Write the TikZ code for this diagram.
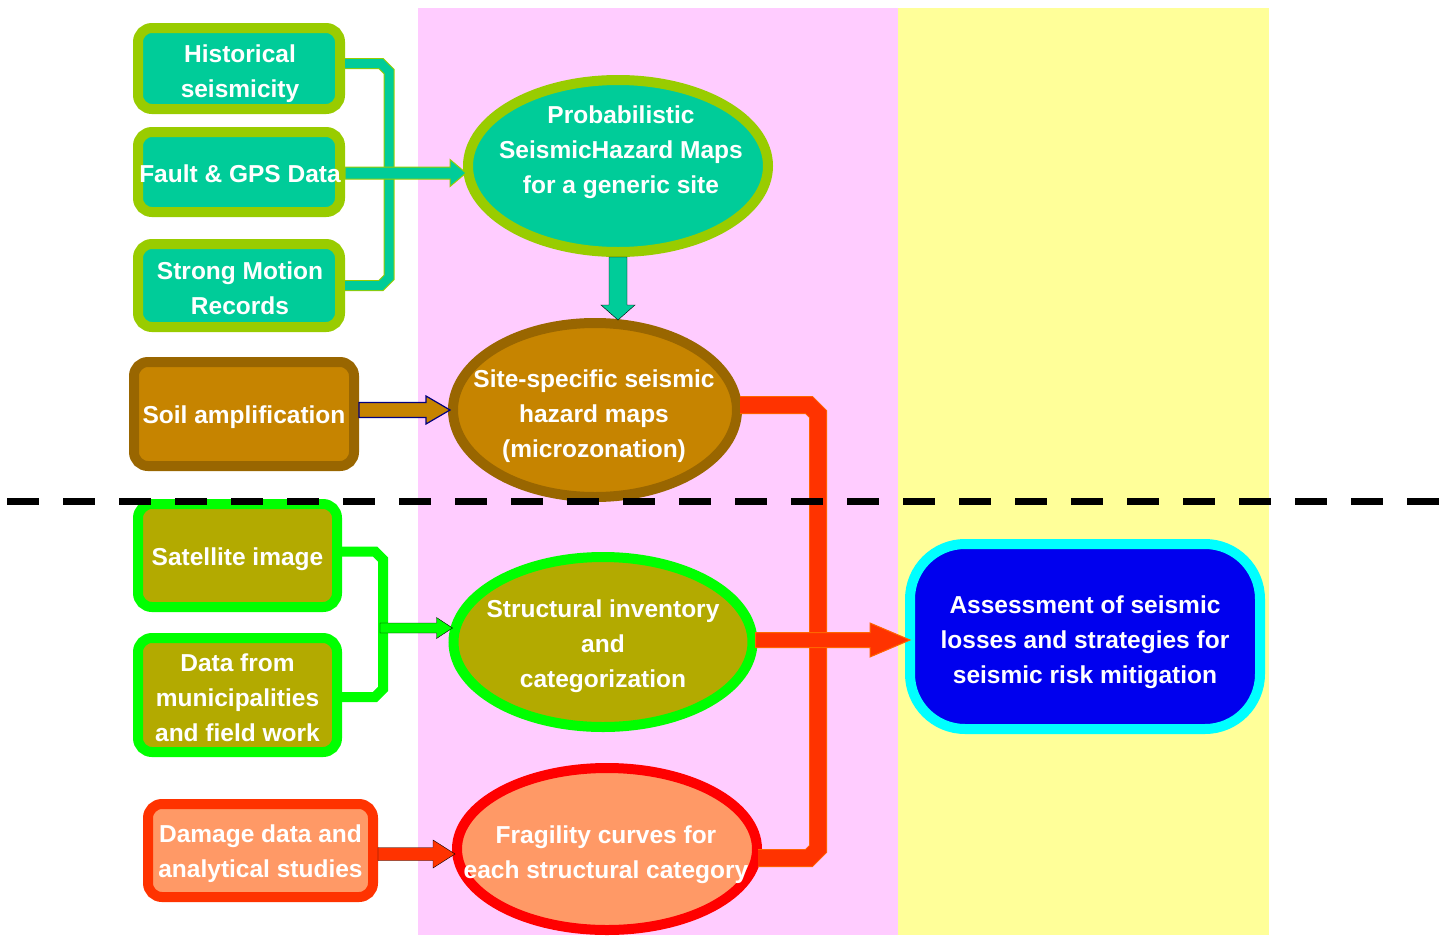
\documentclass[tikz,border=0pt]{standalone}
\usepackage{fontspec}
\setmainfont{Liberation Sans}
\usetikzlibrary{shapes.geometric,calc}
\definecolor{tealc}{HTML}{00CC99}
\definecolor{oliveg}{HTML}{99CC00}
\definecolor{brownb}{HTML}{996600}
\definecolor{brownf}{HTML}{C68400}
\definecolor{limeg}{HTML}{00FF00}
\definecolor{olivef}{HTML}{B3AA00}
\definecolor{salmonf}{HTML}{FF9966}
\definecolor{redor}{HTML}{FF3300}
\definecolor{redb}{HTML}{FF0000}
\definecolor{orout}{HTML}{FF6600}
\definecolor{blueb}{HTML}{0000EE}
\definecolor{cyanb}{HTML}{00FFFF}
\definecolor{pinkbg}{HTML}{FFCCFF}
\definecolor{yellowbg}{HTML}{FFFF99}
\definecolor{navyc}{HTML}{000080}
% horizontal block arrow: style, start, tip, shaft half, head half, head length
\newcommand\rarrow[6]{%
  \draw[#1] let \p1=(#2), \p2=(#3) in
    (\x1,\y1+#4pt) -- (\x2-#6pt,\y1+#4pt) -- (\x2-#6pt,\y1+#5pt) -- (\x2,\y1)
    -- (\x2-#6pt,\y1-#5pt) -- (\x2-#6pt,\y1-#4pt) -- (\x1,\y1-#4pt) -- cycle;}
% vertical (downward) block arrow
\newcommand\darrow[6]{%
  \draw[#1] let \p1=(#2), \p2=(#3) in
    (\x1-#4pt,\y1) -- (\x1-#4pt,\y2+#6pt) -- (\x1-#5pt,\y2+#6pt) -- (\x1,\y2)
    -- (\x1+#5pt,\y2+#6pt) -- (\x1+#4pt,\y2+#6pt) -- (\x1+#4pt,\y1) -- cycle;}
\tikzset{
  txt/.style={font=\bfseries\fontsize{24.5}{35}\selectfont, text=white, align=center, inner sep=0pt, yshift=-3pt},
  box/.style={draw, rectangle, rounded corners=14pt, line width=10pt, inner sep=0pt},
  ell/.style={draw, ellipse, line width=10pt, inner sep=0pt},
  tealline/.style={draw=oliveg, line width=1pt, double=tealc, double distance=9pt, line join=miter},
  greenline/.style={draw=limeg, line width=10pt, line join=miter},
  orline/.style={draw=orout, line width=1pt, double=redor, double distance=16pt, line join=miter},
}
\begin{document}
\begin{tikzpicture}[x=1pt,y=-1pt]
\useasboundingbox (0,0) rectangle (1449,935);
% background bands
\fill[pinkbg] (418,8) rectangle (898,935);
\fill[yellowbg] (898,8) rectangle (1269,935);

% input boxes
\node[box, draw=oliveg, fill=tealc, minimum width=202pt, minimum height=81pt] (hist) at (239,68.5) {};
\node[txt, yshift=-2pt] (histt) at ($(hist)+(1,0)$) {Historical\\seismicity};
\node[box, draw=oliveg, fill=tealc, minimum width=202pt, minimum height=80pt] (fault) at (239,172) {};
\node[txt, yshift=1pt] (faultt) at ($(fault)+(1,0)$) {Fault \& GPS Data};
\node[box, draw=oliveg, fill=tealc, minimum width=202pt, minimum height=83pt] (strong) at (239,285.5) {};
\node[txt] (strongt) at ($(strong)+(1,0)$) {Strong Motion\\Records};
\node[box, draw=brownb, fill=brownf, minimum width=220pt, minimum height=104pt] (soil) at (244,414) {};
\node[txt] (soilt) at (soil) {Soil amplification};
\node[box, draw=limeg, fill=olivef, minimum width=199pt, minimum height=103pt] (sat) at (237.5,555.5) {};
\node[txt, yshift=-1pt] (satt) at (sat) {Satellite image};
\node[box, draw=limeg, fill=olivef, minimum width=199pt, minimum height=114pt] (muni) at (237.5,695) {};
\node[txt] (munit) at (muni) {Data from\\municipalities\\and field work};
\node[box, draw=redor, fill=salmonf, minimum width=225pt, minimum height=93pt] (damage) at (260.5,850.5) {};
\node[txt] (damaget) at (damage) {Damage data and\\analytical studies};

% ellipses
\node[ell, draw=oliveg, fill=tealc, minimum width=300pt, minimum height=172pt] (prob) at (618,166) {};
\node[txt] (probt) at (621,149) {Probabilistic\\SeismicHazard Maps\\for a generic site};
\node[ell, draw=brownb, fill=brownf, minimum width=284pt, minimum height=174pt] (site) at (595,410) {};
\node[txt] (sitet) at (594,413) {Site-specific seismic\\hazard maps\\(microzonation)};
\node[ell, draw=limeg, fill=olivef, minimum width=299pt, minimum height=170pt] (struct) at (603,642) {};
\node[txt] (structt) at (603,643) {Structural inventory\\and\\categorization};
\node[ell, draw=redb, fill=salmonf, minimum width=300pt, minimum height=162pt] (frag) at (607,849) {};
\node[txt] (fragt) at (606,852) {Fragility curves for\\each structural category};

% output
\node[box, draw=cyanb, fill=blueb, rounded corners=55pt, minimum width=350pt, minimum height=185pt] (assess) at (1085,636.5) {};
\node[txt] (assesst) at ($(assess)+(0,2.5)$) {Assessment of seismic\\losses and strategies for\\seismic risk mitigation};

% teal connectors
\draw[tealline] ($(hist.east)+(0,-5)$) -- ++(36,0) -- ++(8,8) -- ++(0,206) -- ++(-8,8) -- ($(strong.east)+(0,0)$);
\rarrow{fill=tealc, draw=oliveg, line width=1pt}{$(fault.east)+(0,1)$}{$(prob.west)+(3,0)$}{6}{13.5}{16}
\darrow{fill=tealc}{prob.south}{$(site.north)+(0,2)$}{9}{17}{15}

% soil arrow
\rarrow{fill=brownf, draw=navyc, line width=1.2pt}{$(soil.east)+(0,-4)$}{$(site.west)+(2,0)$}{7.5}{14}{24}

% green connectors
\coordinate (gmid) at (380,628);
\draw[greenline] ($(sat.east)+(0,-4)$) -- ++(33,0) -- ++(8,8) -- ++(0,129.5) -- ++(-8,8) -- ($(muni.east)+(0,2)$);
\rarrow{fill=limeg}{gmid}{$(struct.west)+(4,0)$}{5}{10.5}{16}

% damage arrow
\rarrow{fill=redor}{$(damage.east)+(0,3.5)$}{$(frag.west)+(3,0)$}{6.5}{14}{22}

% orange connectors
\draw[orline] ($(site.east)+(-2,-5)$) -- (809,405) -- (818,414) -- (818,849) -- (809,858) -- ($(frag.east)+(-4,9)$);
\rarrow{fill=redor, draw=orout, line width=1pt}{$(struct.east)+(-2,-2)$}{$(assess.west)+(5,0)$}{7.5}{17}{40}

% dashed separator
\draw[line width=7pt, dash pattern=on 32pt off 24pt] (7,501) -- (1441,501);
\end{tikzpicture}
\end{document}
